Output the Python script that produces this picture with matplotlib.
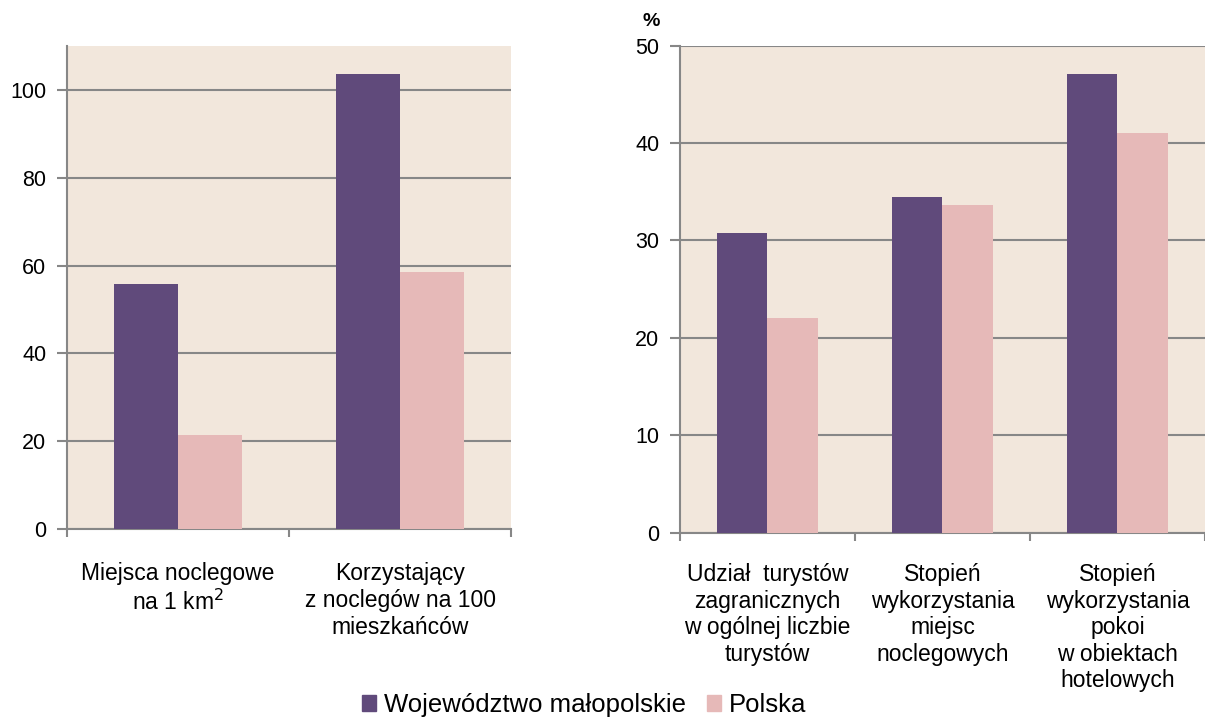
import numpy as np
import matplotlib.pyplot as plt
from matplotlib.patches import Patch

plt.rcParams['font.family'] = ['Liberation Sans', 'DejaVu Sans']

# dane
kat_lewy = ['Miejsca noclegowe\nna 1 km$^{2}$', 'Korzystający\nz noclegów na 100\nmieszkańców']
malopolskie_lewy = [55.8, 103.7]
polska_lewy = [21.4, 58.5]

kat_prawy = ['Udział  turystów\nzagranicznych\nw ogólnej liczbie\nturystów',
             'Stopień\nwykorzystania\nmiejsc\nnoclegowych',
             'Stopień\nwykorzystania\npokoi\nw obiektach\nhotelowych']
malopolskie_prawy = [30.8, 34.4, 47.1]
polska_prawy = [22.0, 33.6, 41.0]

serie = ['Województwo małopolskie', 'Polska']
kolory = ['#604a7b', '#e6b9b8']
tlo = '#f2e7dc'
szary = '#878787'

fig = plt.figure(figsize=(12.05, 7.2), dpi=100)
ax1 = fig.add_axes([0.0556, 0.2653, 0.3685, 0.6708])
ax2 = fig.add_axes([0.5643, 0.2604, 0.4357, 0.6764])

szer = 0.287


def rysuj(ax, kategorie, s1, s2, ymax, krok, odstep):
    x = np.arange(len(kategorie))
    ax.set_facecolor(tlo)
    ax.bar(x - szer / 2, s1, szer, color=kolory[0], zorder=3)
    ax.bar(x + szer / 2, s2, szer, color=kolory[1], zorder=3)
    ax.set_xlim(-0.5, len(kategorie) - 0.5)
    ax.set_ylim(0, ymax)
    ax.set_yticks(np.arange(0, ymax + 0.1, krok))
    ax.yaxis.grid(True, color=szary, linewidth=1.5, zorder=1)
    ax.set_axisbelow(True)
    ax.set_xticks(x)
    ax.set_xticklabels(kategorie, fontsize=16.5, linespacing=1.2)
    ax.set_xticks(np.arange(-0.5, len(kategorie)), minor=True)
    ax.tick_params(axis='x', which='major', length=0, pad=odstep)
    ax.tick_params(axis='x', which='minor', length=6, width=1.5, color=szary, direction='out')
    ax.tick_params(axis='y', length=7, width=1.5, color=szary, labelsize=15.5, pad=8)
    for s in ['top', 'right']:
        ax.spines[s].set_visible(False)
    for s in ['left', 'bottom']:
        ax.spines[s].set_color(szary)
        ax.spines[s].set_linewidth(1.5)


rysuj(ax1, kat_lewy, malopolskie_lewy, polska_lewy, 110, 20, 24)
rysuj(ax2, kat_prawy, malopolskie_prawy, polska_prawy, 50, 10, 22)
ax1.set_yticks(np.arange(0, 101, 20))

fig.text(651 / 1205, 1 - 21 / 720, '%', fontsize=14, fontweight='bold', ha='center', va='center')

uchwyty = [Patch(color=c) for c in kolory]
fig.legend(uchwyty, serie, loc='center', bbox_to_anchor=(584 / 1205, 1 - 705 / 720),
           ncol=2, frameon=False, fontsize=18.5, handlelength=0.55, handleheight=0.55,
           handletextpad=0.3, columnspacing=0.8, borderaxespad=0)

fig.savefig('out.png', dpi=100)
